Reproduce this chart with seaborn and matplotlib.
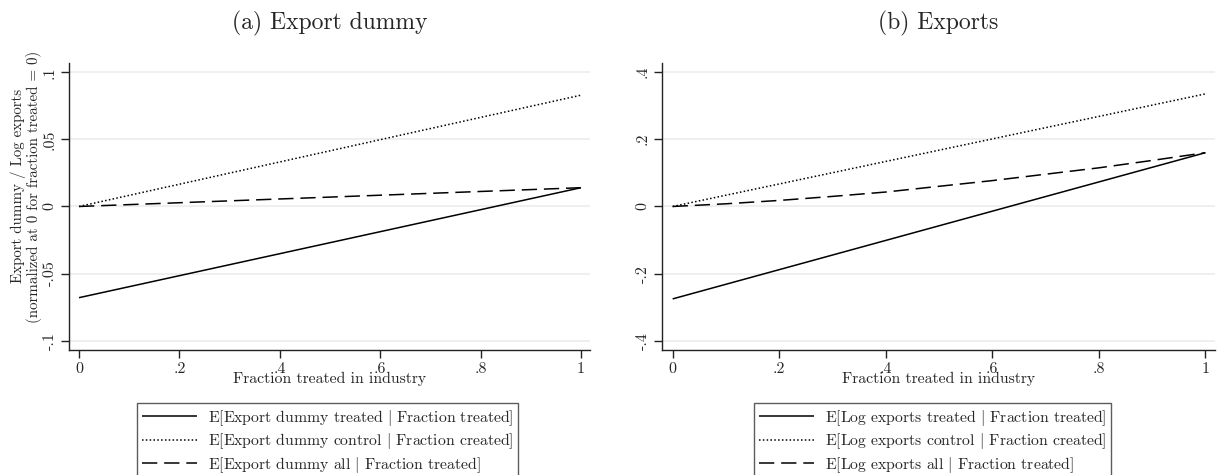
import matplotlib
matplotlib.use("Agg")
import matplotlib.pyplot as plt
import pandas as pd
import seaborn as sns

# fraction treated in industry (x grid)
frac = [0.0, 0.1, 0.2, 0.3, 0.4, 0.5, 0.6, 0.7, 0.8, 0.9, 1.0]

# (a) export dummy, normalized at 0
dummy_treated = [-0.068, -0.0598, -0.0516, -0.0434, -0.0352, -0.027, -0.0188, -0.0106, -0.0024, 0.0058, 0.014]
dummy_control = [0.0, 0.0083, 0.0166, 0.0249, 0.0332, 0.0415, 0.0498, 0.0581, 0.0664, 0.0747, 0.083]
dummy_all = [0.0, 0.0014, 0.0028, 0.0042, 0.0056, 0.007, 0.0084, 0.0098, 0.0112, 0.0126, 0.014]

# (b) log exports, normalized at 0
logx_treated = [-0.275, -0.2315, -0.188, -0.1445, -0.101, -0.0575, -0.014, 0.0295, 0.073, 0.1165, 0.16]
logx_control = [0.0, 0.0335, 0.067, 0.1005, 0.134, 0.1675, 0.201, 0.2345, 0.268, 0.3015, 0.335]
logx_all = [0.0, 0.008, 0.018, 0.030, 0.043, 0.060, 0.077, 0.096, 0.115, 0.137, 0.160]

sns.set_style("white")
plt.rcParams["font.family"] = ["cmr10", "DejaVu Serif"]
plt.rcParams["mathtext.fontset"] = "cm"
plt.rcParams["axes.unicode_minus"] = False

bar = "$|$"
labels_a = ["E[Export dummy treated " + bar + " Fraction treated]",
            "E[Export dummy control " + bar + " Fraction created]",
            "E[Export dummy all " + bar + " Fraction treated]"]
labels_b = ["E[Log exports treated " + bar + " Fraction treated]",
            "E[Log exports control " + bar + " Fraction created]",
            "E[Log exports all " + bar + " Fraction treated]"]

styles = [(0, ()), (0, (1, 1.5)), (0, (10, 4.5))]

fig = plt.figure(figsize=(12.25, 4.75), dpi=100)
ax1 = fig.add_axes([0.0563, 0.2632, 0.4253, 0.6042])
ax2 = fig.add_axes([0.5404, 0.2632, 0.4514, 0.6042])


def draw(ax, series, labels, ylim, yticks, yticklabels, title, leg_x):
    for vals, lab, ls in zip(series, labels, styles):
        df = pd.DataFrame({"frac": frac, "val": vals})
        sns.lineplot(data=df, x="frac", y="val", ax=ax, color="black",
                     linewidth=1.1, linestyle=ls, label=lab)
    ax.set_xlim(-0.02, 1.018)
    ax.set_ylim(*ylim)
    ax.set_xticks([0, 0.2, 0.4, 0.6, 0.8, 1.0])
    ax.set_xticklabels(["0", ".2", ".4", ".6", ".8", "1"], fontsize=11.5)
    ax.set_yticks(yticks)
    ax.set_yticklabels(yticklabels, fontsize=11.5, rotation=90, va="center")
    for y in yticks:
        ax.axhline(y, color="#ececec", linewidth=1.2, zorder=0)
    ax.spines["top"].set_visible(False)
    ax.spines["right"].set_visible(False)
    for s in ["left", "bottom"]:
        ax.spines[s].set_color("#222222")
        ax.spines[s].set_linewidth(1.0)
    ax.tick_params(axis="both", direction="out", length=6, width=1.0,
                   color="#222222", left=True, bottom=True, pad=3)
    ax.set_xlabel("Fraction treated in industry", fontsize=11.3, labelpad=-3)
    ax.set_ylabel("")
    ax.set_title(title, fontsize=17, pad=24)
    leg = ax.legend(loc="upper center", bbox_to_anchor=(leg_x, -0.158),
                    fontsize=11.3, frameon=True, fancybox=False, handlelength=3.5,
                    borderpad=0.3, labelspacing=0.22, handletextpad=0.7)
    leg.get_frame().set_edgecolor("#333333")
    leg.get_frame().set_linewidth(1.0)


draw(ax1, [dummy_treated, dummy_control, dummy_all], labels_a,
     (-0.107, 0.107), [-0.1, -0.05, 0, 0.05, 0.1],
     ["-.1", "-.05", "0", ".05", ".1"], "(a) Export dummy", 0.496)
draw(ax2, [logx_treated, logx_control, logx_all], labels_b,
     (-0.427, 0.427), [-0.4, -0.2, 0, 0.2, 0.4],
     ["-.4", "-.2", "0", ".2", ".4"], "(b) Exports", 0.489)

ax1.set_ylabel("Export dummy / Log exports\n(normalized at 0 for fraction treated = 0)",
               fontsize=10.8, linespacing=1.0)
ax1.yaxis.set_label_coords(-0.052, 0.57)

fig.savefig("out.png", dpi=100)
